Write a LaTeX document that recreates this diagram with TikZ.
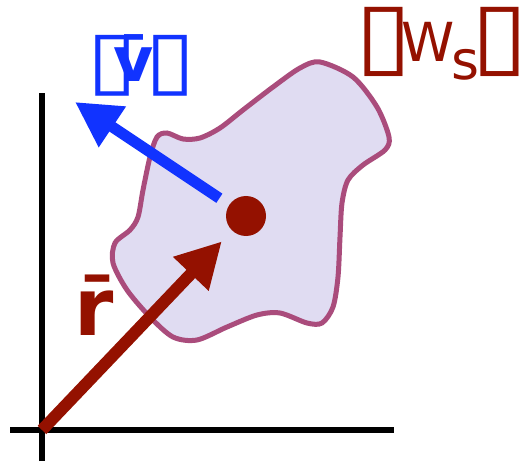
\documentclass[tikz,border=0pt]{standalone}
\usepackage{fontspec}
\setmainfont{DejaVu Sans}
\usetikzlibrary{arrows.meta}
\definecolor{vblue}{RGB}{17,51,255}
\definecolor{rred}{RGB}{148,17,0}
\definecolor{blobfill}{RGB}{224,220,242}
\definecolor{blobline}{RGB}{170,76,124}
% an empty box glyph, #1 wide, font size #2, lowered by #3
\newcommand\bigbox[3]{\makebox[#1][c]{\raisebox{-#3}{\fontsize{#2}{#2}\selectfont\mdseries\scalebox{1.14}[1]{▯}}}}
\begin{document}
\begin{tikzpicture}[x=1bp,y=-1bp,
  axis/.style={line width=6bp},
  vec/.style={line width=12bp,-{Triangle[length=45bp,width=46bp]}},
  lab/.style={anchor=base west,inner sep=0}]
\useasboundingbox (0,0) rectangle (520,463);

% ---- axes ----
\coordinate (O) at (42,430);   % origin
\coordinate (Yb) at (42,461);
\coordinate (Yt) at (42,93);
\coordinate (Xl) at (10,430);
\coordinate (Xr) at (394,430);
\draw[axis] (Yb) -- (Yt);
\draw[axis] (Xl) -- (Xr);

% ---- the body ----
\filldraw[fill=blobfill,draw=blobline,line width=5bp]
  plot[smooth cycle] coordinates {
  (320,62) (353,77) (377,107) (389,137) (385,150) (363,165) (348,180)
  (342,203) (340,237) (338,277) (333,307) (322,323) (307,323) (280,313)
  (257,315) (227,327) (197,340) (173,337) (150,317) (127,290) (113,263)
  (115,243) (130,230) (138,217) (143,190) (150,157) (157,137) (167,133)
  (183,139) (200,138) (220,128) (243,110) (273,87) (300,68)};

% ---- centre point and vectors ----
\node[circle,fill=rred,minimum size=40bp,inner sep=0,outer sep=0] (cm) at (246,216) {};
\coordinate (vtip) at (75,102);
\draw[vec,rred,shorten >=15bp] (O) -- (cm);
\draw[vec,vblue,line width=11bp,shorten <=12bp] (cm) -- (vtip);

% ---- labels ----
\node[lab,vblue,font=\fontsize{62}{62}\selectfont\bfseries] (vlab) at (97,82)
  {\bigbox{31bp}{80}{5bp}\kern-13bp\makebox[37bp][c]{v̄}\kern3bp\bigbox{31bp}{80}{5bp}};
\node[lab,rred,font=\fontsize{54}{54}\selectfont] (wlab) at (365,62)
  {\bigbox{37bp}{91}{4bp}\makebox[51bp][c]{W}\makebox[25bp][c]{\raisebox{-18bp}{s}}\kern4bp\bigbox{36bp}{91}{4bp}};
\node[rred,font=\fontsize{80}{80}\selectfont\bfseries] (rlab) at (94,305) {r̄};

\end{tikzpicture}
\end{document}
